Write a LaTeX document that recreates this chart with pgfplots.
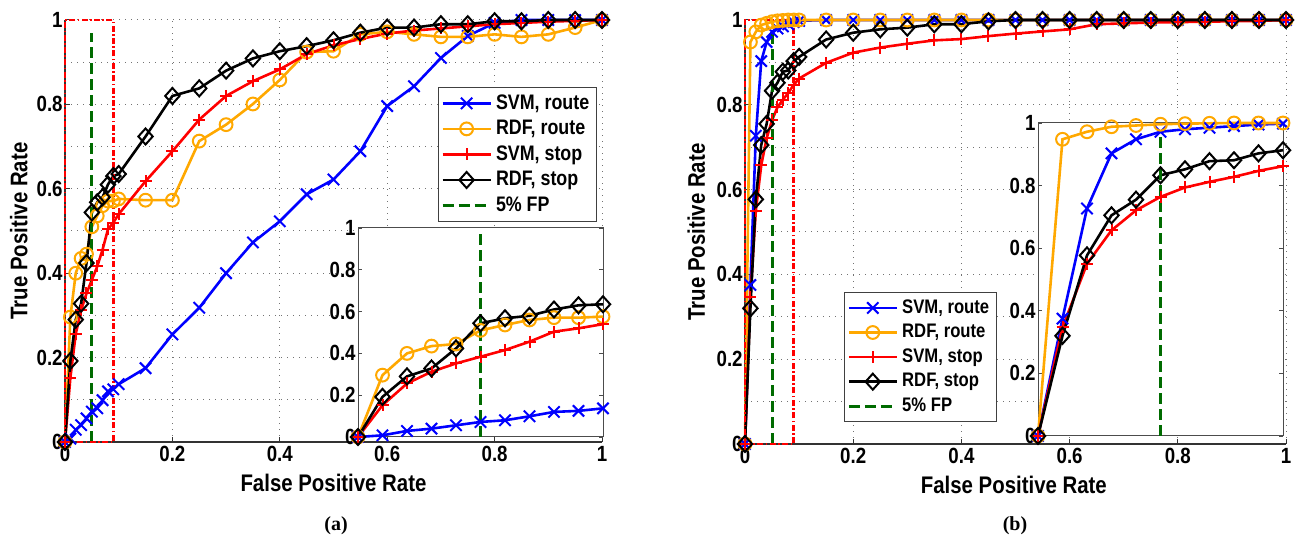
\documentclass[border=0pt]{standalone}
\usepackage{fontspec}
\setmainfont{Liberation Sans}[FakeStretch=0.85]
\newfontfamily\capfont{Liberation Serif}
\usepackage{pgfplots}
\usepackage{pgfplotstable}
\pgfplotsset{compat=1.18}
\definecolor{mblue}{rgb}{0,0,1}
\definecolor{morange}{rgb}{1,0.66,0}
\definecolor{mred}{rgb}{1,0,0}
\definecolor{mgreen}{rgb}{0,0.42,0}
\definecolor{gridc}{gray}{0.45}

\pgfplotstableread{
x sr rr ss rs
0 0 0 0 0
0.01 0.008 0.296 0.152 0.192
0.02 0.029 0.400 0.256 0.290
0.03 0.040 0.435 0.312 0.328
0.04 0.056 0.445 0.352 0.424
0.05 0.072 0.510 0.384 0.544
0.06 0.080 0.536 0.416 0.568
0.07 0.099 0.560 0.456 0.580
0.08 0.120 0.571 0.504 0.610
0.09 0.125 0.571 0.520 0.630
0.10 0.137 0.576 0.540 0.635
0.15 0.175 0.573 0.618 0.724
0.20 0.255 0.573 0.689 0.820
0.25 0.318 0.713 0.764 0.838
0.30 0.400 0.752 0.820 0.880
0.35 0.473 0.801 0.855 0.909
0.40 0.523 0.858 0.883 0.926
0.45 0.587 0.924 0.919 0.938
0.50 0.622 0.926 0.940 0.952
0.55 0.689 0.966 0.955 0.970
0.60 0.796 0.972 0.968 0.982
0.65 0.843 0.966 0.975 0.982
0.70 0.910 0.960 0.980 0.990
0.75 0.962 0.960 0.985 0.990
0.80 0.993 0.966 0.990 0.997
0.85 1.000 0.960 0.993 0.997
0.90 1.000 0.966 0.996 1.000
0.95 1.000 0.982 0.998 1.000
1.00 1.000 1.000 1.000 1.000
}\dataA

\pgfplotstableread{
x sr rr ss rs
0 0 0 0 0
0.01 0.375 0.948 0.347 0.320
0.02 0.727 0.972 0.550 0.577
0.03 0.903 0.988 0.657 0.705
0.04 0.948 0.992 0.721 0.755
0.05 0.972 0.996 0.764 0.833
0.06 0.980 0.998 0.794 0.852
0.07 0.985 0.999 0.812 0.878
0.08 0.990 1.000 0.828 0.881
0.09 0.995 1.000 0.847 0.903
0.10 0.998 1.000 0.862 0.913
0.15 1.000 1.000 0.899 0.954
0.20 1.000 1.000 0.923 0.970
0.25 1.000 1.000 0.935 0.978
0.30 1.000 1.000 0.944 0.982
0.35 1.000 1.000 0.952 0.990
0.40 1.000 1.000 0.955 0.990
0.45 1.000 1.000 0.962 0.997
0.50 1.000 1.000 0.968 1.000
0.55 1.000 1.000 0.973 1.000
0.60 1.000 1.000 0.978 1.000
0.65 1.000 1.000 0.990 1.000
0.70 1.000 1.000 0.992 1.000
0.75 1.000 1.000 0.994 1.000
0.80 1.000 1.000 0.995 1.000
0.85 1.000 1.000 0.996 1.000
0.90 1.000 1.000 0.997 1.000
0.95 1.000 1.000 0.998 1.000
1.00 1.000 1.000 1.000 1.000
}\dataB

\pgfplotsset{
  mainax/.style={
    scale only axis, anchor=south west,
    xmin=0, xmax=1, ymin=0, ymax=1, clip=false,
    axis x line*=bottom, axis y line*=left,
    xtick pos=bottom, ytick pos=left,
    axis line style={-, black!80, line width=0.6pt},
    xtick={0,0.2,0.4,0.6,0.8,1}, ytick={0,0.2,0.4,0.6,0.8,1},
    minor ytick={0.1,0.3,0.5,0.7,0.9},
    grid=both,
    major grid style={gridc, line width=0.5pt, dash pattern=on 0.5pt off 2.5pt},
    minor grid style={gridc, line width=0.5pt, dash pattern=on 0.5pt off 2.5pt},
    tick align=inside, major tick length=2.5pt, minor tick length=0pt,
    tick style={black!80, line width=0.5pt},
    /pgf/number format/assume math mode=true,
    tick label style={font=\fontsize{11}{13}\selectfont\bfseries},
    yticklabel style={inner sep=1pt},
    xticklabel style={inner sep=2pt},
    label style={font=\fontsize{12}{14}\selectfont\bfseries},
    xlabel={False Positive Rate}, ylabel={True Positive Rate},
    legend cell align=left,
    legend image code/.code={\draw[mark repeat=2,mark phase=2] plot coordinates {(0cm,0cm) (0.42cm,0cm) (0.84cm,0cm)};},
  },
  insetax/.style={
    scale only axis, anchor=south west,
    xmin=0, xmax=0.1, ymin=0, ymax=1, clip=false,
    restrict x to domain=0:0.1001,
    axis background/.style={fill=white},
    axis line style={black!70, line width=0.5pt},
    xtick=\empty, ytick={0,0.2,0.4,0.6,0.8,1},
    tick align=inside, major tick length=2pt,
    tick style={black!70, line width=0.4pt},
    /pgf/number format/assume math mode=true,
    tick label style={font=\fontsize{11}{13}\selectfont\bfseries},
    yticklabel style={inner sep=1pt},
  },
  svmr/.style={mblue, line width=1.3pt, mark=x, mark size=4pt, mark options={solid, line width=1pt}},
  rdfr/.style={morange, line width=1.3pt, mark=o, mark size=3.2pt, mark options={solid, line width=1pt}},
  svms/.style={mred, line width=1.3pt, mark=+, mark size=3pt, mark options={solid, line width=1pt}},
  rdfs/.style={black, line width=1.3pt, mark=diamond, mark size=4pt, mark options={solid, line width=1pt, xscale=1.2}},
  fp/.style={mgreen, line width=1.5pt, dash pattern=on 5.5pt off 2.5pt},
  rbox/.style={mred, line width=1.2pt, dash pattern=on 3pt off 1.2pt on 0.8pt off 1.2pt},
}

\begin{document}
\begin{tikzpicture}
\path[use as bounding box] (0,0) rectangle (649pt,270.5pt);

% ---------- panel (a) ----------
\begin{axis}[mainax, at={(32.5pt,49.5pt)}, width=268.5pt, height=211pt,
  xlabel style={at={(axis description cs:0.5,-0.097)}, anchor=center},
  ylabel style={at={(axis description cs:-0.086,0.5)}, anchor=center},
  legend style={at={(0.99,0.841)}, anchor=north east, draw=black!75, fill=white,
    font=\fontsize{10.5}{12.5}\selectfont\bfseries, inner sep=1.5pt, row sep=0pt}]
\addplot[svmr] table[x=x,y=sr]{\dataA}; \addlegendentry{SVM, route}
\addplot[rdfr] table[x=x,y=rr]{\dataA}; \addlegendentry{RDF, route}
\addplot[svms] table[x=x,y=ss]{\dataA}; \addlegendentry{SVM, stop}
\addplot[rdfs] table[x=x,y=rs]{\dataA}; \addlegendentry{RDF, stop}
\addplot[fp] coordinates {(0.05,0) (0.05,0.97)}; \addlegendentry{5\% FP}
\addplot[rbox, forget plot] coordinates {(0,0) (0.09,0) (0.09,1) (0,1) (0,0)};
\end{axis}

\begin{axis}[insetax, at={(179pt,52pt)}, width=122.5pt, height=104.5pt]
\addplot[svmr] table[x=x,y=sr]{\dataA};
\addplot[rdfr] table[x=x,y=rr]{\dataA};
\addplot[svms] table[x=x,y=ss]{\dataA};
\addplot[rdfs] table[x=x,y=rs]{\dataA};
\addplot[fp] coordinates {(0.05,0) (0.05,0.97)};
\end{axis}

% ---------- panel (b) ----------
\begin{axis}[mainax, at={(372.5pt,48.5pt)}, width=270.5pt, height=212pt,
  xlabel style={at={(axis description cs:0.497,-0.097)}, anchor=center},
  ylabel style={at={(axis description cs:-0.09,0.5)}, anchor=center},
  legend style={at={(0.183,0.052)}, anchor=south west, draw=black!75, fill=white,
    font=\fontsize{9.8}{11.5}\selectfont\bfseries, inner sep=1.5pt, row sep=0pt}]
\addplot[svmr] table[x=x,y=sr]{\dataB}; \addlegendentry{SVM, route}
\addplot[rdfr] table[x=x,y=rr]{\dataB}; \addlegendentry{RDF, route}
\addplot[svms] table[x=x,y=ss]{\dataB}; \addlegendentry{SVM, stop}
\addplot[rdfs] table[x=x,y=rs]{\dataB}; \addlegendentry{RDF, stop}
\addplot[fp] coordinates {(0.05,0) (0.05,0.97)}; \addlegendentry{5\% FP}
\addplot[rbox, forget plot] coordinates {(0,0) (0.09,0) (0.09,1) (0,1) (0,0)};
\end{axis}

\begin{axis}[insetax, at={(519pt,52.5pt)}, width=122.5pt, height=156.5pt]
\addplot[svmr] table[x=x,y=sr]{\dataB};
\addplot[rdfr] table[x=x,y=rr]{\dataB};
\addplot[svms] table[x=x,y=ss]{\dataB};
\addplot[rdfs] table[x=x,y=rs]{\dataB};
\addplot[fp] coordinates {(0.05,0) (0.05,0.97)};
\end{axis}

\node[font=\capfont\bfseries\fontsize{10}{12}\selectfont] at (168pt,7.5pt) {(a)};
\node[font=\capfont\bfseries\fontsize{10}{12}\selectfont] at (507.5pt,7.5pt) {(b)};
\end{tikzpicture}
\end{document}
